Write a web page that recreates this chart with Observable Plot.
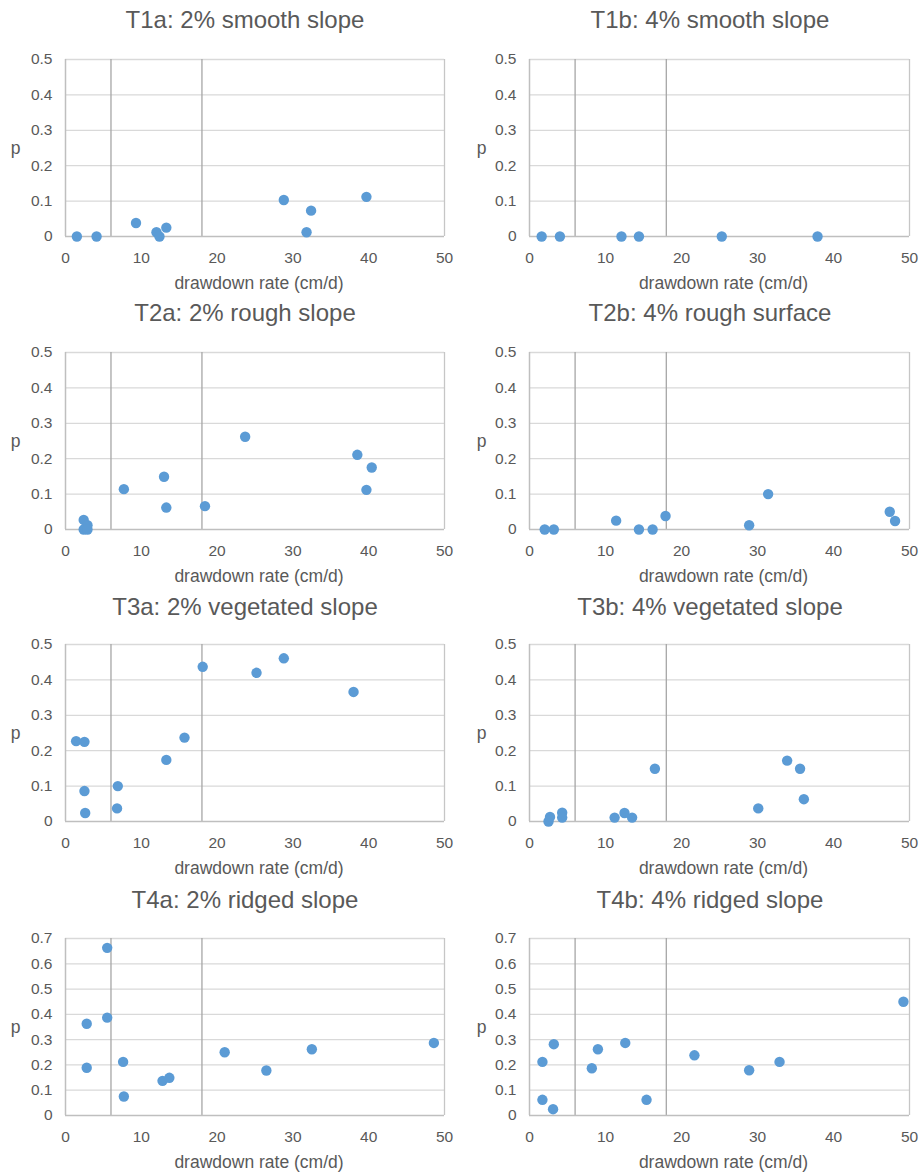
<!DOCTYPE html>
<html>
<head>
<meta charset="utf-8">
<script src="https://cdn.jsdelivr.net/npm/d3@7"></script>
<script src="https://cdn.jsdelivr.net/npm/@observablehq/plot@0.6"></script>
<style>
  html, body { margin: 0; padding: 0; background: white; }
  #chart { position: relative; width: 922px; height: 1174px; background: white; font-family: 'Liberation Sans', Arial, sans-serif; }
  .ttl { position: absolute; width: 420px; height: 30px; line-height: 30px; text-align: center; font-size: 24px; color: #595959; white-space: nowrap; }
  .pl { position: absolute; }
</style>
</head>
<body>
<div id="chart"></div>
<script>
// ---- data ----
const titles = [
  "T1a: 2% smooth slope", "T1b: 4% smooth slope",
  "T2a: 2% rough slope", "T2b: 4% rough surface",
  "T3a: 2% vegetated slope", "T3b: 4% vegetated slope",
  "T4a: 2% ridged slope", "T4b: 4% ridged slope"
];
const xTicks = [0, 10, 20, 30, 40, 50];
const yTicksLow = [0, 0.1, 0.2, 0.3, 0.4, 0.5];
const yTicksHigh = [0, 0.1, 0.2, 0.3, 0.4, 0.5, 0.6, 0.7];
const markerLines = [6, 18];
const xLabel = "drawdown rate (cm/d)";
const yLabel = "p";

const t1aX = [1.5, 4.1, 9.3, 12.0, 12.4, 13.3, 28.8, 32.4, 31.8, 39.7];
const t1aY = [0, 0, 0.038, 0.012, 0, 0.025, 0.103, 0.073, 0.012, 0.112];

const t1bX = [1.6, 4.0, 12.1, 14.4, 25.3, 37.9];
const t1bY = [0, 0, 0, 0, 0, 0];

const t2aX = [2.4, 2.9, 2.4, 2.9, 7.7, 13.0, 13.3, 18.4, 23.7, 38.5, 40.4, 39.7];
const t2aY = [0.027, 0.012, 0, 0, 0.114, 0.149, 0.062, 0.066, 0.262, 0.211, 0.175, 0.112];

const t2bX = [2.0, 3.2, 11.4, 14.4, 16.2, 17.9, 28.9, 31.4, 47.4, 48.1];
const t2bY = [0, 0, 0.025, 0, 0, 0.038, 0.012, 0.100, 0.050, 0.024];

const t3aX = [1.4, 2.5, 2.5, 2.6, 6.9, 6.8, 13.3, 15.7, 18.1, 25.2, 28.8, 38.0];
const t3aY = [0.227, 0.225, 0.086, 0.024, 0.100, 0.037, 0.174, 0.237, 0.437, 0.420, 0.461, 0.366];

const t3bX = [2.5, 2.7, 4.3, 4.3, 11.2, 12.5, 13.5, 16.5, 30.1, 33.9, 35.6, 36.1];
const t3bY = [0, 0.013, 0.025, 0.011, 0.011, 0.024, 0.011, 0.149, 0.037, 0.172, 0.149, 0.063];

const t4aX = [5.5, 2.8, 5.5, 2.8, 7.6, 7.7, 12.8, 13.7, 21.0, 26.5, 32.5, 48.6];
const t4aY = [0.663, 0.363, 0.387, 0.189, 0.212, 0.075, 0.137, 0.149, 0.250, 0.178, 0.262, 0.287];

const t4bX = [1.7, 1.7, 3.2, 3.1, 8.2, 9.0, 12.6, 15.4, 21.7, 28.9, 32.9, 49.2];
const t4bY = [0.212, 0.062, 0.282, 0.025, 0.187, 0.262, 0.287, 0.062, 0.238, 0.179, 0.212, 0.450];

// ---- layout ----
const seriesX = [t1aX, t1bX, t2aX, t2bX, t3aX, t3bX, t4aX, t4bX];
const seriesY = [t1aY, t1bY, t2aY, t2bY, t3aY, t3bY, t4aY, t4bY];
const plotTops = [59, 352, 644, 938];
const titleCenters = [20, 313, 607, 900];
const plotH = 177;
const mTop = 10, mBottom = 60;

const chart = document.getElementById("chart");

function makePanel(i) {
  const row = Math.floor(i / 2), col = i % 2;
  const yTicks = row === 3 ? yTicksHigh : yTicksLow;
  const yMax = yTicks[yTicks.length - 1];
  const ml = col === 0 ? 65 : 68;
  const mr = col === 0 ? 17 : 13;
  const data = seriesX[i].map((x, k) => ({x, y: seriesY[i][k]}));
  const svg = Plot.plot({
    width: 461,
    height: mTop + plotH + mBottom,
    marginTop: mTop, marginBottom: mBottom, marginLeft: ml, marginRight: mr,
    style: {fontFamily: "'Liberation Sans', Arial, sans-serif", fontSize: "15.5px", color: "#595959", background: "white", overflow: "visible"},
    x: {domain: [0, 50], ticks: xTicks, tickSize: 0, tickPadding: 15, label: null},
    y: {domain: [0, yMax], ticks: yTicks, tickSize: 0, tickPadding: 13, label: null, tickFormat: d => String(d)},
    marks: [
      Plot.ruleY(yTicks.filter(t => t > 0), {stroke: "#d9d9d9", strokeWidth: 1.3}),
      Plot.ruleX([50], {stroke: "#c6c6c6", strokeWidth: 1.3}),
      Plot.ruleX(markerLines, {stroke: "#a6a6a6", strokeWidth: 1.3}),
      Plot.ruleX([0], {stroke: "#bfbfbf", strokeWidth: 1.5}),
      Plot.ruleY([0], {stroke: "#bfbfbf", strokeWidth: 1.5}),
      Plot.dot(data, {x: "x", y: "y", r: 5.2, fill: "#5b9bd5"}),
      Plot.text([xLabel], {frameAnchor: "bottom", dy: 47, dx: 4, lineAnchor: "middle", fontSize: 17.5, text: d => d}),
      Plot.text([yLabel], {frameAnchor: "left", dx: col === 0 ? -50 : -48, textAnchor: "middle", fontSize: 17.5, text: d => d})
    ]
  });
  svg.classList.add("pl");
  svg.style.left = (col === 0 ? 0 : 461) + "px";
  svg.style.top = (plotTops[row] - mTop) + "px";
  chart.appendChild(svg);

  const t = document.createElement("div");
  t.className = "ttl";
  t.textContent = titles[i];
  const cx = col === 0 ? 245 : 710;
  t.style.left = (cx - 210) + "px";
  t.style.top = (titleCenters[row] - 15) + "px";
  chart.appendChild(t);
}

for (let i = 0; i < 8; i++) makePanel(i);
</script>
</body>
</html>
